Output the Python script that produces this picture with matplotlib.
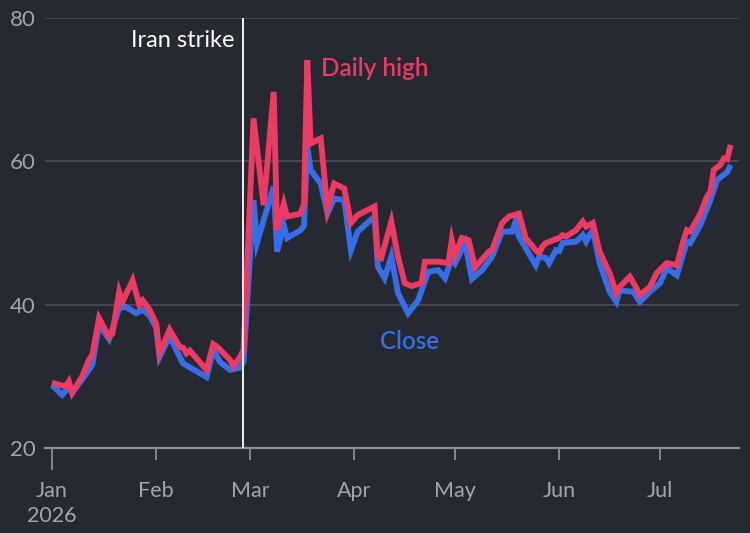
import matplotlib
matplotlib.use("Agg")
import matplotlib.pyplot as plt
import pandas as pd

plt.rcParams['font.family'] = ['Lato', 'DejaVu Sans']

# ---- data ----
high_dates = [
    "2026-01-01", "2026-01-05", "2026-01-06", "2026-01-07", "2026-01-10", "2026-01-12", "2026-01-13",
    "2026-01-15", "2026-01-18", "2026-01-19", "2026-01-21", "2026-01-22", "2026-01-25", "2026-01-27",
    "2026-01-28", "2026-01-30",
    "2026-02-01", "2026-02-02", "2026-02-05", "2026-02-08", "2026-02-09", "2026-02-10", "2026-02-11",
    "2026-02-16", "2026-02-18", "2026-02-19", "2026-02-23", "2026-02-24", "2026-02-26", "2026-02-27",
    "2026-03-02", "2026-03-05", "2026-03-08", "2026-03-09", "2026-03-11", "2026-03-12", "2026-03-16",
    "2026-03-17", "2026-03-18", "2026-03-19", "2026-03-22", "2026-03-24", "2026-03-26", "2026-03-29",
    "2026-03-31",
    "2026-04-02", "2026-04-07", "2026-04-08", "2026-04-09", "2026-04-12", "2026-04-14", "2026-04-16",
    "2026-04-18", "2026-04-21", "2026-04-22", "2026-04-26", "2026-04-29", "2026-04-30",
    "2026-05-01", "2026-05-03", "2026-05-05", "2026-05-07", "2026-05-11", "2026-05-12", "2026-05-15",
    "2026-05-17", "2026-05-20", "2026-05-22", "2026-05-25", "2026-05-26", "2026-05-27", "2026-05-28",
    "2026-06-01", "2026-06-02", "2026-06-03", "2026-06-06", "2026-06-08", "2026-06-09", "2026-06-11",
    "2026-06-13", "2026-06-16", "2026-06-18", "2026-06-19", "2026-06-22", "2026-06-24", "2026-06-25",
    "2026-06-28", "2026-06-30",
    "2026-07-03", "2026-07-06", "2026-07-08", "2026-07-09", "2026-07-10", "2026-07-13", "2026-07-15",
    "2026-07-16", "2026-07-17", "2026-07-19", "2026-07-20", "2026-07-21", "2026-07-22",
]
high_values = [
    29.1, 28.6, 29.3, 27.7, 30.0, 32.3, 33.0, 38.1, 35.5, 36.0, 41.8, 40.4, 43.4, 40.0, 40.6, 39.3,
    37.4, 33.2, 36.5, 34.1, 34.0, 33.2, 33.6, 30.9, 34.5, 34.2, 32.3, 31.4, 32.7, 33.7,
    66.0, 53.9, 69.7, 50.4, 54.1, 52.3, 52.7, 54.1, 74.1, 62.5, 63.2, 53.4, 56.9, 56.2, 51.4,
    52.5, 53.7, 46.7, 46.5, 51.6, 46.7, 43.0, 42.6, 43.0, 46.0, 46.0, 45.8, 49.0,
    46.9, 49.3, 49.0, 45.2, 47.4, 47.6, 51.4, 52.3, 52.7, 49.3, 47.6, 47.2, 48.1, 48.6,
    49.3, 49.7, 49.5, 50.4, 51.6, 50.9, 51.4, 47.4, 44.4, 41.6, 42.5, 43.9, 42.3, 41.3, 42.5, 44.4,
    45.8, 45.5, 49.0, 50.4, 50.2, 52.7, 55.1, 55.8, 58.8, 59.5, 60.4, 60.3, 62.3,
]

close_dates = [
    "2026-01-01", "2026-01-04", "2026-01-06", "2026-01-07", "2026-01-10", "2026-01-13", "2026-01-15",
    "2026-01-18", "2026-01-21", "2026-01-23", "2026-01-26", "2026-01-28", "2026-01-30",
    "2026-02-01", "2026-02-02", "2026-02-05", "2026-02-09", "2026-02-16", "2026-02-18", "2026-02-20",
    "2026-02-23", "2026-02-26", "2026-02-27",
    "2026-03-02", "2026-03-03", "2026-03-08", "2026-03-09", "2026-03-11", "2026-03-12", "2026-03-16",
    "2026-03-17", "2026-03-18", "2026-03-19", "2026-03-22", "2026-03-24", "2026-03-26", "2026-03-29",
    "2026-03-31",
    "2026-04-02", "2026-04-07", "2026-04-08", "2026-04-10", "2026-04-12", "2026-04-14", "2026-04-17",
    "2026-04-20", "2026-04-23", "2026-04-26", "2026-04-28", "2026-04-30",
    "2026-05-01", "2026-05-04", "2026-05-06", "2026-05-09", "2026-05-12", "2026-05-15", "2026-05-18",
    "2026-05-19", "2026-05-20", "2026-05-25", "2026-05-26", "2026-05-28", "2026-05-29", "2026-05-31",
    "2026-06-01", "2026-06-02", "2026-06-06", "2026-06-08", "2026-06-09", "2026-06-10", "2026-06-11",
    "2026-06-13", "2026-06-16", "2026-06-18", "2026-06-19", "2026-06-23", "2026-06-25", "2026-06-28",
    "2026-07-01", "2026-07-03", "2026-07-06", "2026-07-09", "2026-07-10", "2026-07-13", "2026-07-16",
    "2026-07-18", "2026-07-21", "2026-07-22",
]
close_values = [
    28.8, 27.4, 28.5, 27.7, 29.6, 31.6, 37.2, 35.2, 39.5, 39.7, 38.8, 39.3, 38.5,
    36.8, 32.7, 35.6, 31.8, 29.9, 33.7, 32.0, 30.9, 31.2, 32.0,
    54.6, 48.6, 56.5, 47.4, 51.1, 49.3, 50.4, 51.0, 62.0, 58.8, 56.9, 52.7, 54.8, 54.6, 47.6,
    50.2, 52.3, 45.3, 43.7, 46.7, 41.6, 38.8, 40.6, 44.6, 44.8, 43.7, 46.5,
    45.8, 48.6, 43.6, 44.8, 46.7, 50.2, 50.2, 51.6, 49.5, 45.5, 46.7, 46.5, 45.8, 47.6,
    47.5, 48.6, 48.8, 49.7, 48.8, 49.7, 50.4, 45.8, 41.8, 40.4, 42.0, 41.8, 40.4, 41.8,
    43.0, 45.1, 44.1, 48.8, 48.6, 51.1, 54.6, 57.4, 58.5, 59.5,
]

month_ticks = ["2026-01-01", "2026-02-01", "2026-03-01", "2026-04-01", "2026-05-01", "2026-06-01", "2026-07-01"]
month_labels = ["Jan\n2026", "Feb", "Mar", "Apr", "May", "Jun", "Jul"]
y_ticks = [20, 40, 60, 80]
event_date = "2026-02-27"
event_label = "Iran strike"

# ---- style ----
BG = "#262932"
RED = "#ec3a62"
BLUE = "#356ee8"
GRID = "#4c4f57"
TXT = "#a3a5ab"
LW = 4.2

fig = plt.figure(figsize=(7.5, 5.33), dpi=100, facecolor=BG)
ax = fig.add_axes([0.06, 0.1595, 0.9253, 0.8067])
ax.set_facecolor(BG)

hd = pd.to_datetime(high_dates)
cd = pd.to_datetime(close_dates)

ax.plot(cd, close_values, color=BLUE, lw=LW, solid_joinstyle="miter", solid_capstyle="butt", zorder=3)
ax.plot(hd, high_values, color=RED, lw=LW, solid_joinstyle="miter", solid_capstyle="butt", zorder=4)

ax.set_ylim(20, 80)
ax.set_xlim(pd.Timestamp("2025-12-29 22:00"), pd.Timestamp("2026-07-24 12:00"))

ax.set_yticks(y_ticks)
ax.set_yticklabels([str(v) for v in y_ticks])
for v in y_ticks[1:]:
    ax.axhline(v, color=GRID, lw=1.2, zorder=1)
ax.axhline(20, color="#8e9097", lw=1.6, zorder=2, clip_on=False)

for s in ax.spines.values():
    s.set_visible(False)

ax.tick_params(axis="y", length=0, pad=7, labelsize=16, labelcolor=TXT)
ax.set_xticks(pd.to_datetime(month_ticks))
ax.set_xticklabels(month_labels, linespacing=1.3)
ax.tick_params(axis="x", length=8.6, width=1.3, color="#8e9097", pad=15,
               labelsize=15.5, labelcolor=TXT)
ax.xaxis.get_major_ticks()[0].tick1line.set_markersize(15.8)

# event line
ax.axvline(pd.Timestamp(event_date), color="white", lw=1.3, zorder=5)
ax.text(pd.Timestamp(event_date) - pd.Timedelta(days=2.6), 76.9, event_label,
        color="white", fontsize=17, ha="right", va="center")

ax.text(pd.Timestamp("2026-03-22"), 73.0, "Daily high", color=RED, fontsize=17.5,
        fontweight="semibold", ha="left", va="center")
ax.text(pd.Timestamp("2026-04-08 12:00"), 34.9, "Close", color=BLUE, fontsize=17.5,
        fontweight="semibold", ha="left", va="center")

fig.savefig("out.png", dpi=100, facecolor=BG)
